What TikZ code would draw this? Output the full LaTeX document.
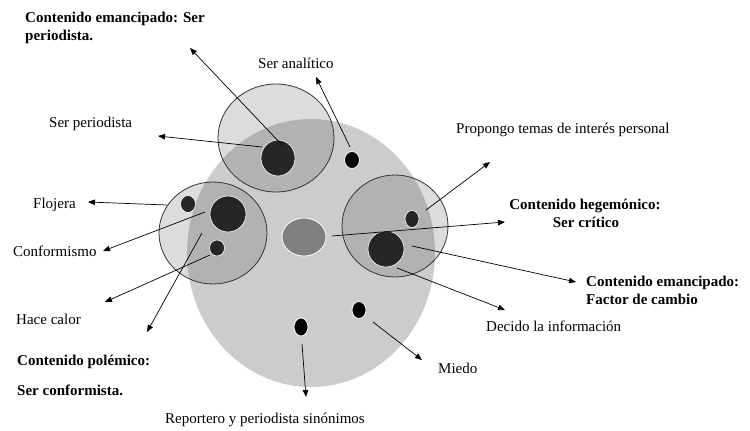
\documentclass[tikz,border=0pt]{standalone}
\usepackage{fontspec}
\setmainfont{Liberation Serif}
\usetikzlibrary{arrows.meta}
\definecolor{bigc}{HTML}{CCCCCC}
\definecolor{lightc}{HTML}{DCDCDC}
\definecolor{overc}{HTML}{B2B2B2}
\definecolor{darkc}{HTML}{262626}
\definecolor{midc}{HTML}{808080}
\tikzset{
  lbl/.style={inner sep=0pt, anchor=base west, font=\fontsize{15}{18}\selectfont},
  blbl/.style={lbl, font=\fontsize{15}{18}\selectfont\bfseries},
  conn/.style={draw=black, line width=0.7pt, -{Triangle[length=7pt,width=5.5pt]}},
  ring/.style={draw=black!80, line width=0.8pt},
  dot/.style={fill=black, draw=white, line width=0.8pt},
  dark/.style={fill=darkc, draw=white, line width=0.6pt}
}
\begin{document}
\begin{tikzpicture}[x=1pt,y=-1pt]
\useasboundingbox (0,0) rectangle (750,431);
% big ellipse
\fill[bigc] (311,253) ellipse [x radius=124pt, y radius=134pt];
% sub circles
\fill[lightc] (276,138) ellipse [x radius=58pt, y radius=54pt];
\fill[lightc] (213,233) ellipse [x radius=54pt, y radius=51pt];
\fill[lightc] (395,226) ellipse [x radius=53pt, y radius=51pt];
\begin{scope}
\clip (311,253) ellipse [x radius=124pt, y radius=134pt];
\fill[overc] (276,138) ellipse [x radius=58pt, y radius=54pt];
\fill[overc] (213,233) ellipse [x radius=54pt, y radius=51pt];
\fill[overc] (395,226) ellipse [x radius=53pt, y radius=51pt];
\end{scope}
\draw[ring] (276,138) ellipse [x radius=58pt, y radius=54pt];
\draw[ring] (213,233) ellipse [x radius=54pt, y radius=51pt];
\draw[ring] (395,226) ellipse [x radius=53pt, y radius=51pt];
% inner shapes
\path[dark] (278,158) ellipse [x radius=17pt, y radius=18pt];
\path[dot] (352,160) ellipse [x radius=7.5pt, y radius=8.5pt];
\path[dark] (188,204) ellipse [x radius=7.5pt, y radius=8.5pt];
\path[dark] (228,214) ellipse [x radius=18pt, y radius=18pt];
\path[dark] (217,248) ellipse [x radius=7.5pt, y radius=8pt];
\path[fill=midc, draw=white, line width=0.8pt] (304,237) ellipse [x radius=22pt, y radius=19pt];
\path[dark] (412,219) ellipse [x radius=7pt, y radius=8.5pt];
\path[dark] (386,249) ellipse [x radius=18pt, y radius=18pt];
\path[dot] (301,327) ellipse [x radius=7pt, y radius=9pt];
\path[dot] (359,310) ellipse [x radius=7pt, y radius=8.5pt];
% labels
\node[blbl] (cem1) at (25,22) {Contenido emancipado: Ser};
\node[blbl] (cem2) at (25,40) {periodista.};
\node[lbl] (sana) at (258,68) {Ser analítico};
\node[lbl] (sper) at (49,127) {Ser periodista};
\node[lbl] (prop) at (456,133) {Propongo temas de interés personal};
\node[blbl, anchor=base] (heg1) at (585,209) {Contenido hegemónico:};
\node[blbl, anchor=base] (heg2) at (586,227) {Ser crítico};
\node[blbl] (fac1) at (586,286) {Contenido emancipado:};
\node[blbl] (fac2) at (586,304) {Factor de cambio};
\node[lbl] (dec) at (486,331) {Decido la información};
\node[lbl] (mie) at (438,373) {Miedo};
\node[lbl] (rep) at (165,423) {Reportero y periodista sinónimos};
\node[lbl] (flo) at (33,208) {Flojera};
\node[lbl] (con) at (13,256) {Conformismo};
\node[lbl] (hac) at (16,324) {Hace calor};
\node[blbl] (pol1) at (17,365) {Contenido polémico:};
\node[blbl] (pol2) at (17,395) {Ser conformista.};
% connector endpoints
\coordinate (s1) at (282,145); \coordinate (e1) at (190,48);
\coordinate (s2) at (262,147); \coordinate (e2) at (158,136);
\coordinate (s3) at (350,147); \coordinate (e3) at (316,77);
\coordinate (s4) at (167,205); \coordinate (e4) at (88,202);
\coordinate (s5) at (205,212); \coordinate (e5) at (103,251);
\coordinate (s6) at (210,255); \coordinate (e6) at (105,302);
\coordinate (s7) at (202,233); \coordinate (e7) at (147,332);
\coordinate (s8) at (426,210); \coordinate (e8) at (490,162);
\coordinate (s9) at (332,236); \coordinate (e9) at (505,222);
\coordinate (s10) at (412,246); \coordinate (e10) at (576,282);
\coordinate (s11) at (397,268); \coordinate (e11) at (505,310);
\coordinate (s12) at (373,322); \coordinate (e12) at (422,360);
\coordinate (s13) at (302,344); \coordinate (e13) at (306,397);
\foreach \i in {1,...,13} {\draw[conn] (s\i) -- (e\i);}
\end{tikzpicture}
\end{document}
